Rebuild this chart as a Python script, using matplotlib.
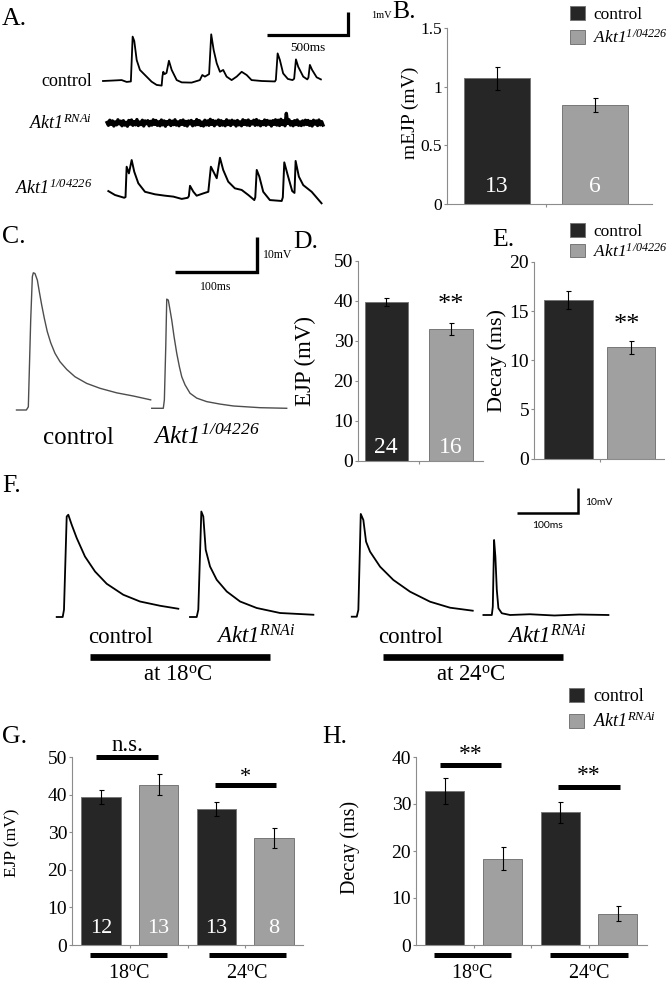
import numpy as np
import matplotlib
matplotlib.use('Agg')
import matplotlib.pyplot as plt
from matplotlib.lines import Line2D

plt.rcParams['font.family'] = ['Liberation Serif', 'DejaVu Serif']
plt.rcParams['mathtext.fontset'] = 'custom'
# math text is only used for the italic gene names; \mathsf gives upright serif
plt.rcParams['mathtext.rm'] = 'Liberation Serif:italic'
plt.rcParams['mathtext.it'] = 'Liberation Serif:italic'
plt.rcParams['mathtext.sf'] = 'Liberation Serif'
plt.rcParams['mathtext.bf'] = 'Liberation Serif:bold'

W, H = 667, 982
CTRL, MUT = '#262626', '#a0a0a0'
EDGE, AXIS = '#777777', '#8c8c8c'

# ---------------- data ----------------
# A: spontaneous mEJP recordings (ms, mV)
a_ctrl_t = [0, 60, 115, 146, 172, 183, 193, 208, 228, 259,
            300, 331, 362, 367, 372, 380, 392, 407, 424, 455,
            486, 547, 598, 613, 629, 655, 668, 683, 702, 722,
            742, 763, 794, 825, 856, 887, 917, 979, 1061, 1067,
            1078, 1092, 1112, 1141, 1170, 1180, 1191, 1205, 1236, 1261,
            1268, 1277, 1291, 1319, 1345]
a_ctrl_v = [0.00, 0.02, 0.04, -0.04, -0.02, 1.93, 1.74, 0.91, 0.48, 0.26,
            -0.03, -0.17, -0.20, 0.20, 0.40, 0.30, 0.35, 0.88, 0.48, 0.04,
            -0.06, -0.07, 0.04, 0.26, 0.19, 0.30, 2.03, 1.35, 0.77, 0.40,
            0.48, 0.19, 0.04, 0.19, 0.40, 0.26, 0.04, 0.00, -0.02, 0.05,
            1.20, 0.91, 0.33, 0.09, 0.04, 0.10, 0.94, 0.62, 0.19, 0.07,
            0.15, 0.70, 0.48, 0.16, 0.07]
a_rnai_v = [0.02, -0.10, 0.12, -0.06, 0.09, -0.13, 0.05, -0.08, 0.14, -0.04, 0.08, -0.12, 0.10, -0.09, 0.03, -0.14,
            0.11, -0.05, 0.13, -0.10, 0.06, -0.08, 0.15, -0.11, 0.04, -0.07, 0.12, -0.13, 0.09, -0.03, 0.10, -0.12,
            0.07, -0.09, 0.14, -0.06, 0.11, -0.10, 0.05, -0.12, 0.13, -0.08, 0.09, -0.14, 0.06, -0.05, 0.12, -0.11,
            0.08, -0.07, 0.14, -0.09, 0.05, -0.12, 0.10, -0.06, 0.13, -0.10, 0.07, -0.13, 0.09, -0.04, 0.11, -0.12,
            0.06, -0.09, 0.15, -0.07, 0.10, -0.11, 0.04, -0.13, 0.12, -0.08, 0.09, -0.10, 0.16, -0.06, 0.11, -0.12,
            0.08, -0.05, 0.13, -0.11, 0.10, -0.09, 0.06, -0.12, 0.14, -0.07, 0.09, -0.11, 0.12, -0.05, 0.08, -0.13,
            0.11, -0.08, 0.05, -0.12, 0.14, -0.06, 0.10, -0.09, 0.13, -0.11, 0.07, -0.04, 0.12, -0.10, 0.15, -0.08,
            0.09, -0.12, 0.06, -0.07, 0.13, -0.10, 0.11, -0.05, 0.08, -0.13, 0.10, -0.06, 0.14, -0.09, 0.12, -0.11,
            0.16, -0.07, 0.10, -0.12, 0.42, -0.02, 0.14, -0.09, 0.06, -0.12, 0.10, -0.07, 0.13, -0.10, 0.05, -0.11,
            0.09, -0.08, 0.12, -0.06, 0.11, -0.10, 0.07, -0.13, 0.12, -0.05, 0.09, -0.11, 0.13, -0.08, 0.06, -0.09]
a_rnai_span = (25, 1358)
a_mut_t = [33, 74, 131, 139, 146, 160, 177, 193, 218, 259,
           321, 383, 434, 486, 523, 530, 537, 558, 578, 619,
           650, 666, 687, 702, 722, 742, 773, 814, 856, 897,
           934, 940, 949, 965, 989, 1030, 1103, 1110, 1119, 1140,
           1168, 1182, 1189, 1209, 1236, 1288, 1349]
a_mut_v = [0.17, 0.00, -0.12, -0.09, 1.23, 0.94, 1.52, 1.01, 0.51, 0.14,
           0.03, -0.03, -0.07, -0.17, -0.12, -0.05, 0.40, 0.14, -0.03, 0.07,
           0.14, 1.23, 0.94, 0.73, 1.62, 1.09, 0.58, 0.29, 0.22, 0.00,
           -0.22, -0.10, 1.09, 0.80, 0.14, -0.22, -0.26, -0.10, 1.42, 0.87,
           0.17, 0.09, 1.48, 0.80, 0.43, 0.14, -0.36]

# B: mEJP amplitude
b_mean = [1.07, 0.84]
b_sem = [0.10, 0.06]
b_n = ['13', '6']

# C: evoked EJP traces (ms, mV)
c_ctrl_t = [-14, -2, 0.4, 3.3, 5.3, 6.5, 8.5, 11.4, 13.8, 16.7, 19.9, 23.5, 27.7, 32.9,
            39.0, 47.2, 57.3, 71.6, 87.8, 108.2, 128.4, 149.6]
c_ctrl_v = [0, 0, 0.9, 25.7, 38.1, 39.2, 39.0, 37.1, 33.8, 30.0, 26.2, 22.4, 19.2, 16.2,
            13.8, 11.6, 9.5, 7.6, 6.2, 4.9, 4.0, 2.9]
c_mut_t = [-15, -0.9, 0.4, 2.1, 3.3, 5.2, 7.3, 9.4, 12.2, 15.5, 18.7, 21.6, 25.6, 31.7,
           39.9, 52.1, 68.3, 84.5, 117.1, 149.6]
c_mut_v = [0, 0, 2.4, 17.6, 31.2, 30.9, 28.1, 25.2, 20.5, 15.7, 11.9, 9.0, 6.7, 4.3,
           2.9, 1.9, 1.2, 0.66, 0.17, 0]

# D, E: EJP amplitude and decay
d_mean = [39.6, 32.9]
d_sem = [1.05, 1.4]
d_n = ['24', '16']
e_mean = [16.1, 11.3]
e_sem = [0.9, 0.65]

# F: EJP traces at 18 and 24 C (ms, mV)
f_c18_t = [-11.8, -2.1, 0, 4.4, 7.0, 12.5, 20.6, 34.0, 50.3, 69.2, 96.1, 123.2, 155.6, 185.3]
f_c18_v = [0, 0, 2.9, 40.2, 40.9, 36.9, 31.6, 24.2, 18.2, 13.3, 8.9, 6.2, 4.5, 3.3]
f_r18_t = [-13.5, -2.6, 0, 4.9, 8.1, 12.0, 19.0, 29.8, 46.1, 67.7, 94.7, 132.5, 186.5]
f_r18_v = [0, 0, 2.9, 42.2, 40.2, 26.9, 20.2, 14.9, 10.2, 6.2, 3.6, 1.6, 0.9]
f_c24_t = [-10.7, -2.6, 0, 3.9, 8.1, 12.5, 19.0, 35.2, 56.7, 83.8, 116.2, 148.6, 185.4]
f_c24_v = [0, 0, 2.7, 41.1, 38.7, 30.0, 26.0, 20.0, 14.7, 10.0, 6.0, 3.6, 2.4]
f_r24_t = [-15.2, -1.6, 0, 2.1, 4.2, 6.5, 9.1, 14.6, 28.0, 60, 100, 140, 187.4]
f_r24_v = [0, 0, 3.3, 30.0, 23.3, 10.0, 2.7, 0.7, 0, 0.3, -0.2, 0.2, 0]

# G, H: EJP amplitude and decay, control vs Akt1 RNAi at 18 / 24 C
g_mean = [39.5, 42.7, 36.2, 28.6]
g_sem = [1.85, 2.85, 1.8, 2.65]
g_n = ['12', '13', '13', '8']
h_mean = [32.8, 18.4, 28.2, 6.7]
h_sem = [2.7, 2.5, 2.3, 1.65]

MUT_LABEL = r'$Akt1^{1/04226}$'
RNAI_LABEL = r'$Akt1^{RNAi}$'
DEG18 = r'18$^{\mathsf{o}}$C'
DEG24 = r'24$^{\mathsf{o}}$C'

fig = plt.figure(figsize=(W / 100, H / 100), dpi=100)


def box(l, t, r, b):
    return [l / W, 1 - b / H, (r - l) / W, (b - t) / H]


def ftext(x, y, s, **kw):
    kw.setdefault('ha', 'left')
    kw.setdefault('va', 'center')
    fig.text(x / W, 1 - y / H, s, **kw)


def fline(x0, x1, y, lw):
    fig.add_artist(Line2D([x0 / W, x1 / W], [1 - y / H] * 2, color='k', lw=lw,
                          solid_capstyle='butt'))


def trace_axes(l, t, r, b, x0, y0, ms_px, mv_px):
    ax = fig.add_axes(box(l, t, r, b))
    ax.set_xlim((l - x0) * ms_px, (r - x0) * ms_px)
    ax.set_ylim((y0 - b) * mv_px, (y0 - t) * mv_px)
    ax.axis('off')
    return ax


def scale_bar(ax, x, y, dx, dy, lw, xlab, ylab, xoff, yoff, fs, yfs, family=None):
    ax.plot([x - dx, x, x], [y, y, y + dy], color='k', lw=lw,
            solid_joinstyle='miter', solid_capstyle='butt')
    kw = {'textcoords': 'offset points'}
    if family:
        kw['family'] = family
    ax.annotate(xlab, (x - dx / 2, y), xytext=xoff, ha='center', va='center',
                fontsize=fs, **kw)
    ax.annotate(ylab, (x, y + dy / 2), xytext=yoff, ha='left', va='center',
                fontsize=yfs, **kw)


def bar_axes(bx, xlim, ylim, yticks, ylabels, means, sems, colors, width,
             xticks, tick_fs):
    ax = fig.add_axes(box(*bx))
    x = np.arange(len(means))
    bars = ax.bar(x, means, width=width, color=colors, edgecolor=EDGE,
                  linewidth=0.7, zorder=2)
    ax.errorbar(x, means, yerr=sems, fmt='none', ecolor='k', elinewidth=0.8,
                capsize=1.8, capthick=0.8, zorder=3)
    ax.set_xlim(*xlim)
    ax.set_ylim(*ylim)
    ax.set_yticks(yticks)
    ax.set_yticklabels(ylabels)
    ax.set_xticks(xticks)
    ax.set_xticklabels([])
    for s in ('top', 'right'):
        ax.spines[s].set_visible(False)
    for s in ('left', 'bottom'):
        ax.spines[s].set_color(AXIS)
        ax.spines[s].set_linewidth(0.8)
    ax.tick_params(colors=AXIS, labelcolor='k', labelsize=tick_fs, length=2.5,
                   width=0.8, direction='out', pad=1)
    return ax, bars


def legend_at(ax, handles, labels, x, y, spacing, fs=13):
    ax.legend(handles, labels, loc='upper left', bbox_to_anchor=(x / W, 1 - y / H),
              bbox_transform=fig.transFigure, frameon=False, fontsize=fs,
              handlelength=0.85, handleheight=0.85, handletextpad=0.5,
              labelspacing=spacing, borderpad=0, borderaxespad=0)


def sig(ax, x0, x1, y, label, ly, fs, lx=None):
    ax.plot([x0, x1], [y, y], color='k', lw=3.6, solid_capstyle='butt',
            clip_on=False, zorder=4)
    ax.text((x0 + x1) / 2 if lx is None else lx, ly, label, ha='center',
            va='center', fontsize=fs)


def groups(ax, spans, labels, fs):
    tr = ax.get_xaxis_transform()
    for (x0, x1), lab in zip(spans, labels):
        ax.plot([x0, x1], [-0.055, -0.055], transform=tr, color='k', lw=3.6,
                solid_capstyle='butt', clip_on=False)
        ax.text((x0 + x1) / 2, -0.15, lab, transform=tr, ha='center',
                va='center', fontsize=fs)


# ---------------- A ----------------
axA = trace_axes(95, 0, 400, 215, 103, 81, 500 / 81, 1 / 23)
axA.plot(a_ctrl_t, a_ctrl_v, color='k', lw=1.3)
rt = np.linspace(a_rnai_span[0], a_rnai_span[1], len(a_rnai_v))
axA.plot(rt, np.array(a_rnai_v) - 42 / 23, color='k', lw=2.4)
axA.plot(a_mut_t, np.array(a_mut_v) - 114 / 23, color='k', lw=1.4)
scale_bar(axA, 1512, 2.0, 500, 1.0, 2.3, '500ms', '1mV', (0, -9.5), (17, 5.5), 9.5, 7.5)
ftext(92, 82, 'control', ha='right', fontsize=13)
ftext(92, 123, RNAI_LABEL, ha='right', fontsize=13)
ftext(92, 188, MUT_LABEL, ha='right', fontsize=13)

# ---------------- B ----------------
axB, bB = bar_axes((447, 28, 652, 204), (-0.51, 1.58), (0, 1.5), [0, 0.5, 1, 1.5],
                   ['0', '0.5', '1', '1.5'], b_mean, b_sem, [CTRL, MUT], 0.67,
                   [0.5], 12.5)
for i, n in enumerate(b_n):
    axB.text(i, 0.15, n, ha='center', va='center', fontsize=17, color='white')
legend_at(axB, list(bB), ['control', MUT_LABEL], 570, 6, 0.35, fs=12.5)
ftext(410, 113, 'mEJP (mV)', ha='center', rotation=90, fontsize=14)

# ---------------- C ----------------
axC = trace_axes(0, 225, 300, 425, 28, 410, 100 / 82, 10 / 35)
axC.plot(c_ctrl_t, c_ctrl_v, color='#4d4d4d', lw=1.0)
axC.plot(np.array(c_mut_t) + 165.9, np.array(c_mut_v) + 0.49, color='#4d4d4d', lw=1.0)
scale_bar(axC, 279.3, 39.4, 100, 10, 2.4, '100ms', '10mV', (0, -10.6), (4.3, 0), 8.5, 8.5)
ftext(78, 444, 'control', ha='center', va='baseline', fontsize=18)
ftext(206, 444, MUT_LABEL, ha='center', va='baseline', fontsize=18)

# ---------------- D ----------------
axD, bD = bar_axes((358, 260.7, 483, 460.7), (-0.436, 1.49), (0, 50),
                   [0, 10, 20, 30, 40, 50], ['0', '10', '20', '30', '40', '50'],
                   d_mean, d_sem, [CTRL, MUT], 0.67, [0.5], 14)
for i, n in enumerate(d_n):
    axD.text(i, 3.4, n, ha='center', va='center', fontsize=17, color='white')
axD.text(1, 39.0, '**', ha='center', va='center', fontsize=19)
ftext(305, 361, 'EJP (mV)', ha='center', rotation=90, fontsize=16.5)

# ---------------- E ----------------
axE, bE = bar_axes((534, 262, 664, 458.5), (-0.55, 1.53), (0, 20),
                   [0, 5, 10, 15, 20], ['0', '5', '10', '15', '20'],
                   e_mean, e_sem, [CTRL, MUT], 0.78, [0.5], 14)
axE.text(0.93, 13.6, '**', ha='center', va='center', fontsize=19)
legend_at(axE, list(bE), ['control', MUT_LABEL], 570, 223, 0.15, fs=12.5)
ftext(497, 360, 'Decay (ms)', ha='center', rotation=90, fontsize=16)

# ---------------- F ----------------
axF = trace_axes(0, 480, 667, 680, 0, 617, 100 / 61.7, 0.4)
for t, v, t0, v0 in [(f_c18_t, f_c18_v, 103.7, 0), (f_r18_t, f_r18_v, 321.4, 0),
                     (f_c24_t, f_c24_v, 580.8, 0.12), (f_r24_t, f_r24_v, 798.7, 0.8)]:
    axF.plot(np.array(t) + t0, np.array(v) + v0, color='k', lw=1.3)
scale_bar(axF, 937.4, 41.5, 100, 10, 1.8, '100ms', '10mV', (0, -9.1), (4.8, -1.4),
          7.5, 7.5, family='Lato')
for x, s in [(121, 'control'), (256, RNAI_LABEL), (411, 'control'), (547, RNAI_LABEL)]:
    ftext(x, 643, s, ha='center', va='baseline', fontsize=16.5)
fline(90, 270, 656.7, 4.8)
fline(383, 563, 656.7, 4.8)
ftext(178, 681, 'at ' + DEG18, ha='center', va='baseline', fontsize=16.5)
ftext(471, 681, 'at ' + DEG24, ha='center', va='baseline', fontsize=16.5)

# ---------------- G ----------------
axG, bG = bar_axes((72, 757.3, 303, 945), (-0.5, 3.5), (0, 50),
                   [0, 10, 20, 30, 40, 50], ['0', '10', '20', '30', '40', '50'],
                   g_mean, g_sem, [CTRL, MUT, CTRL, MUT], 0.68, [0.5, 1.5, 2.5], 14)
for i, n in enumerate(g_n):
    axG.text(i, 4.5, n, ha='center', va='center', fontsize=16, color='white')
sig(axG, -0.08, 0.99, 50, 'n.s.', 53.2, 16.5)
sig(axG, 1.98, 3.03, 42.5, '*', 44.6, 16)
groups(axG, [(-0.18, 1.15), (1.87, 3.2)], [DEG18, DEG24], 14.5)
ftext(12.5, 843, 'EJP (mV)', ha='center', rotation=90, fontsize=12.5)

# ---------------- H ----------------
axH, bH = bar_axes((416, 757, 646.7, 945), (-0.5, 3.5), (0, 40),
                   [0, 10, 20, 30, 40], ['0', '10', '20', '30', '40'],
                   h_mean, h_sem, [CTRL, MUT, CTRL, MUT], 0.68, [0.5, 1.5, 2.5], 14)
sig(axH, -0.08, 0.98, 38.3, '**', 40.6, 17)
sig(axH, 1.97, 3.03, 33.7, '**', 36.0, 17)
groups(axH, [(-0.19, 1.14), (1.83, 3.17)], [DEG18, DEG24], 14.5)
legend_at(axH, [bH[0], bH[1]], ['control', RNAI_LABEL], 569, 688, 0.35)
ftext(350, 847, 'Decay (ms)', ha='center', rotation=90, fontsize=14.5)

# ---------------- panel letters ----------------
for x, y, s in [(2, 19, 'A.'), (392, 12, 'B.'), (2, 237, 'C.'), (293, 242, 'D.'),
                (492, 240, 'E.'), (2, 486, 'F.'), (2, 737, 'G.'), (322, 737, 'H.')]:
    ftext(x, y, s, fontsize=18.5)

fig.savefig('out.png', dpi=100)
